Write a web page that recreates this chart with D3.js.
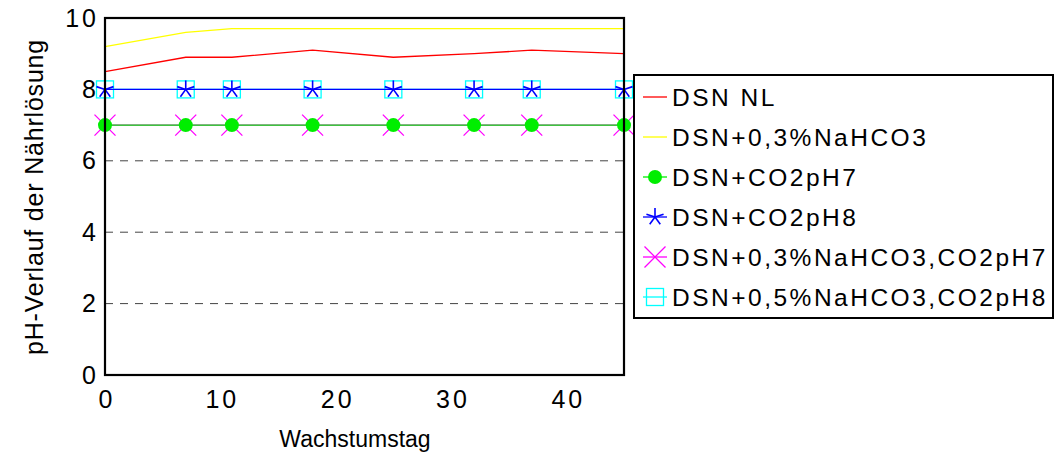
<!DOCTYPE html>
<html>
<head>
<meta charset="utf-8">
<script src="https://cdn.jsdelivr.net/npm/d3@7"></script>
<style>
  html, body { margin: 0; padding: 0; background: #fff; }
  svg { display: block; font-family: "Liberation Sans", Arial, sans-serif; }
</style>
</head>
<body>
<svg id="chart" width="1056" height="457"></svg>
<script>
// Wachstumstage (Messzeitpunkte)
const days = [0, 7, 11, 18, 25, 32, 37, 45];

// pH-Werte je Variante
const dsnNL        = [8.5, 8.9, 8.9, 9.1, 8.9, 9.0, 9.1, 9.0];
const dsnNaHCO3    = [9.2, 9.6, 9.7, 9.7, 9.7, 9.7, 9.7, 9.7];
const dsnCO2pH7    = [7, 7, 7, 7, 7, 7, 7, 7];
const dsnCO2pH8    = [8, 8, 8, 8, 8, 8, 8, 8];
const dsnNaHCO3pH7 = [7, 7, 7, 7, 7, 7, 7, 7];
const dsnNaHCO3pH8 = [8, 8, 8, 8, 8, 8, 8, 8];

const seriesNames = [
  "DSN NL",
  "DSN+0,3%NaHCO3",
  "DSN+CO2pH7",
  "DSN+CO2pH8",
  "DSN+0,3%NaHCO3,CO2pH7",
  "DSN+0,5%NaHCO3,CO2pH8"
];
const yTicks = [0, 2, 4, 6, 8, 10];
const gridTicks = [2, 4, 6];
const xTicks = [0, 10, 20, 30, 40];

const series = [
  { name: seriesNames[0], values: dsnNL,        color: "#ff0000", marker: null },
  { name: seriesNames[1], values: dsnNaHCO3,    color: "#ffff00", marker: null },
  { name: seriesNames[2], values: dsnCO2pH7,    color: "#00ee00", marker: "circle" },
  { name: seriesNames[3], values: dsnCO2pH8,    color: "#0000ff", marker: "star" },
  { name: seriesNames[4], values: dsnNaHCO3pH7, color: "#ff00ff", marker: "cross" },
  { name: seriesNames[5], values: dsnNaHCO3pH8, color: "#00ffff", marker: "square" }
];

const svg = d3.select("#chart");
const m = { left: 105, right: 624, top: 18, bottom: 375 };

const x = d3.scaleLinear().domain([0, 45]).range([m.left, m.right]);
const y = d3.scaleLinear().domain([0, 10]).range([m.bottom, m.top]);

// dashed gridlines
svg.append("g")
  .selectAll("line")
  .data(gridTicks)
  .join("line")
  .attr("x1", m.left).attr("x2", m.right)
  .attr("y1", d => y(d)).attr("y2", d => y(d))
  .attr("stroke", "#444").attr("stroke-width", 1)
  .attr("stroke-dasharray", "8,7");

// axes (labels only; frame drawn separately)
const tickFont = sel => sel
  .attr("font-size", 25).attr("fill", "#000")
  .attr("letter-spacing", "3px")
  .attr("font-family", "Liberation Sans, Arial, sans-serif");

const yAxis = svg.append("g")
  .attr("transform", `translate(${m.left},0)`)
  .call(d3.axisLeft(y).tickValues(yTicks).tickSize(0).tickPadding(6).tickFormat(d3.format("d")));
yAxis.select(".domain").remove();
yAxis.selectAll("text").call(tickFont);

const xAxis = svg.append("g")
  .attr("transform", `translate(0,${m.bottom})`)
  .call(d3.axisBottom(x).tickValues(xTicks).tickSize(0).tickPadding(15).tickFormat(d3.format("d")));
xAxis.select(".domain").remove();
xAxis.selectAll("text").call(tickFont).attr("dx", 1.5);

// axis titles
svg.append("text")
  .attr("x", 355).attr("y", 447)
  .attr("text-anchor", "middle")
  .attr("font-size", 23)
  .text("Wachstumstag");

svg.append("text")
  .attr("transform", "translate(43,197) rotate(-90)")
  .attr("text-anchor", "middle")
  .attr("font-size", 25)
  .attr("letter-spacing", "0.8px")
  .text("pH-Verlauf der Nährlösung");

// marker shapes
function drawMarker(g, type, color, cx, cy) {
  if (type === "circle") {
    g.append("circle").attr("cx", cx).attr("cy", cy).attr("r", 7).attr("fill", color);
  } else if (type === "star") {
    const r = 9;
    for (let i = 0; i < 5; i++) {
      const a = -Math.PI / 2 + i * 2 * Math.PI / 5;
      g.append("line")
        .attr("x1", cx).attr("y1", cy)
        .attr("x2", cx + r * Math.cos(a)).attr("y2", cy + r * Math.sin(a))
        .attr("stroke", color).attr("stroke-width", 1.6);
    }
  } else if (type === "cross") {
    const r = 10.5;
    g.append("path")
      .attr("d", `M${cx - r},${cy - r}L${cx + r},${cy + r}M${cx - r},${cy + r}L${cx + r},${cy - r}`)
      .attr("stroke", color).attr("stroke-width", 1.3).attr("fill", "none");
  } else if (type === "square") {
    g.append("rect").attr("x", cx - 8.5).attr("y", cy - 8.5).attr("width", 17).attr("height", 17)
      .attr("fill", "none").attr("stroke", color).attr("stroke-width", 1.3);
  }
}

const line = d3.line().x((d, i) => x(days[i])).y(d => y(d));

// series, drawn last-to-first so the earlier ones sit on top
const plot = svg.append("g");
[...series].reverse().forEach(s => {
  const g = plot.append("g");
  g.append("path").datum(s.values)
    .attr("d", line)
    .attr("fill", "none")
    .attr("stroke", s.color)
    .attr("stroke-width", 1.3);
  if (s.marker) {
    s.values.forEach((v, i) => drawMarker(g, s.marker, s.color, x(days[i]), y(v)));
  }
});

// plot frame
svg.append("rect")
  .attr("x", m.left).attr("y", m.top)
  .attr("width", m.right - m.left).attr("height", m.bottom - m.top)
  .attr("fill", "none").attr("stroke", "#000").attr("stroke-width", 2.2);

// legend
const lg = svg.append("g");
lg.append("rect")
  .attr("x", 634).attr("y", 75).attr("width", 419).attr("height", 243)
  .attr("fill", "#fff").attr("stroke", "#000").attr("stroke-width", 2);

const rowY = d3.scalePoint().domain(seriesNames).range([97, 297]);
series.forEach(s => {
  const cy = rowY(s.name);
  const g = lg.append("g");
  g.append("line").attr("x1", 643).attr("x2", 667).attr("y1", cy).attr("y2", cy)
    .attr("stroke", s.color).attr("stroke-width", 1.3);
  if (s.marker) drawMarker(g, s.marker, s.color, 655, cy);
  g.append("text")
    .attr("x", 672).attr("y", cy)
    .attr("dy", "0.36em")
    .attr("font-size", 24.5)
    .attr("letter-spacing", "2.5px")
    .text(s.name);
});
</script>
</body>
</html>
